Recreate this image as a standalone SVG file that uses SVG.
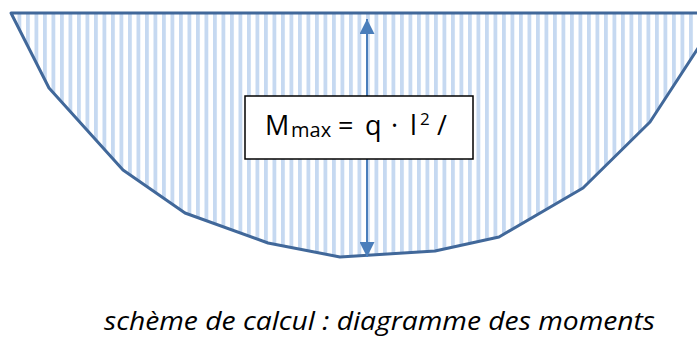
<svg xmlns="http://www.w3.org/2000/svg" width="697" height="343" viewBox="0 0 697 343">
<style>
.outline{fill:url(#stripes);stroke:#41689a;stroke-width:3;stroke-linejoin:round}
.arrow{stroke:#4a7ebb;stroke-width:2;fill:none}
.box{fill:#ffffff;stroke:#000000;stroke-width:1.5}
.f{font-family:"Open Sans","Liberation Sans",sans-serif;fill:#000000}
.cap{font-family:"Open Sans","Liberation Sans",sans-serif;font-style:italic;font-size:25px;fill:#000000}
</style>
<defs>
<pattern id="stripes" patternUnits="userSpaceOnUse" x="0.5" y="0" width="8.5" height="20">
<rect x="0" y="0" width="8.5" height="20" fill="#ffffff"/>
<rect x="0" y="0" width="3.8" height="20" fill="#c6d9f1"/>
</pattern>
<marker id="ah" viewBox="0 0 10 10" refX="10" refY="5" markerWidth="15" markerHeight="15" markerUnits="userSpaceOnUse" orient="auto-start-reverse">
<path d="M0,0 L10,5 L0,10 z" fill="#4a7ebb"/>
</marker>
</defs>
<g id="diagram">
<polygon class="outline" points="11,13 49,88 123,170 185,213 268,243 340,257 435,251 499,237 583,188 650,122 721,13"/>
</g>
<g id="connectors">
<line class="arrow" x1="367" y1="19" x2="367" y2="257" marker-start="url(#ah)" marker-end="url(#ah)"/>
</g>
<g id="formula">
<rect class="box" x="245" y="96" width="228" height="63"/>
<text class="f" font-size="27" y="135"><tspan x="265">M</tspan><tspan x="291" font-size="20" dy="2">max</tspan><tspan x="338" dy="-2">=</tspan><tspan x="365">q</tspan><tspan x="391">·</tspan><tspan x="410">l</tspan><tspan x="420" font-size="17" dy="-10">2</tspan><tspan x="437" dy="10">/</tspan></text>
</g>
<g id="caption">
<text class="cap" x="104" y="330" textLength="551" lengthAdjust="spacingAndGlyphs">schème de calcul : diagramme des moments</text>
</g>
</svg>
